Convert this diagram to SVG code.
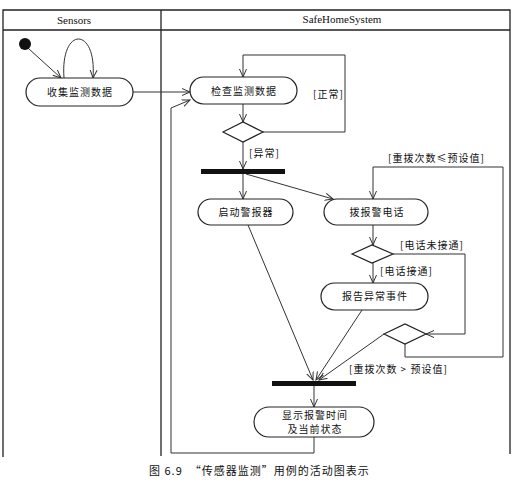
<svg xmlns="http://www.w3.org/2000/svg" width="512" height="491" viewBox="0 0 512 491">
<style>
.frame{fill:none;stroke:#222;stroke-width:1.3}
.act{fill:#fff;stroke:#222;stroke-width:1.2}
.dec{fill:#fff;stroke:#222;stroke-width:1.2}
.bar{fill:#111}
.conn{fill:none;stroke:#333;stroke-width:1}
.t{font-family:"Noto Sans CJK SC",sans-serif;font-size:10px;letter-spacing:1px;fill:#111}
.c{text-anchor:middle}
.hdr{font-family:"Liberation Serif",serif;font-size:11px;fill:#111;text-anchor:middle}
</style>
<defs>
<marker id="arr" markerUnits="userSpaceOnUse" markerWidth="10" markerHeight="10" refX="8" refY="4" orient="auto">
<path d="M0,0.5 L8,4 L0,7.5" fill="none" stroke="#333" stroke-width="1"/>
</marker>
</defs>
<rect width="512" height="491" fill="#fff"/>
<g id="frame">
<path class="frame" d="M3,457 V10 H510 V454 M3,30 H510 M161,10 V456"/>
<text class="hdr" x="74" y="24">Sensors</text>
<text class="hdr" x="342" y="23">SafeHomeSystem</text>
</g>
<g id="connectors">
<path class="conn" d="M29,49 L61,78" marker-end="url(#arr)"/>
<path class="conn" d="M64,78 C60,26 97,26 93,78" marker-end="url(#arr)"/>
<path class="conn" d="M133,92 H190" marker-end="url(#arr)"/>
<path class="conn" d="M243,104 V122" marker-end="url(#arr)"/>
<path class="conn" d="M263,132 H345 V55 H243 V77" marker-end="url(#arr)"/>
<path class="conn" d="M243,142 V169" marker-end="url(#arr)"/>
<path class="conn" d="M243,174 V199" marker-end="url(#arr)"/>
<path class="conn" d="M246,174 L333,199" marker-end="url(#arr)"/>
<path class="conn" d="M373,225 V245" marker-end="url(#arr)"/>
<path class="conn" d="M373,263 V283" marker-end="url(#arr)"/>
<path class="conn" d="M393,254 H465 V334 H426" marker-end="url(#arr)"/>
<path class="conn" d="M405,344 V357 H503 V167 H373 V199" marker-end="url(#arr)"/>
<path class="conn" d="M248,225 L313,380" marker-end="url(#arr)"/>
<path class="conn" d="M362,310 L316,380" marker-end="url(#arr)"/>
<path class="conn" d="M384,334 L319,380" marker-end="url(#arr)"/>
<path class="conn" d="M314,386 V407" marker-end="url(#arr)"/>
<path class="conn" d="M314,437 V453 H171 V108 L190,100" marker-end="url(#arr)"/>
<text class="t" x="313" y="98">[正常]</text>
<text class="t" x="249" y="157">[异常]</text>
<text class="t" x="388" y="162">[重拨次数≤预设值]</text>
<text class="t" x="400" y="249">[电话未接通]</text>
<text class="t" x="380" y="275">[电话接通]</text>
<text class="t" x="349" y="373">[重拨次数 &gt; 预设值]</text>
</g>
<g id="start"><circle cx="25" cy="44" r="6" fill="#111"/></g>
<g id="collect"><rect class="act" x="26" y="78" width="107" height="28" rx="14"/><text class="t c" x="80" y="96">收集监测数据</text></g>
<g id="check"><rect class="act" x="190" y="77" width="107" height="27" rx="13.5"/><text class="t c" x="244" y="95">检查监测数据</text></g>
<g id="decision1"><polygon class="dec" points="223,132 243,122 263,132 243,142"/></g>
<g id="fork"><rect class="bar" x="201" y="169" width="84" height="5"/></g>
<g id="alarm"><rect class="act" x="198" y="199" width="95" height="26" rx="13"/><text class="t c" x="246" y="216">启动警报器</text></g>
<g id="dial"><rect class="act" x="324" y="199" width="104" height="26" rx="13"/><text class="t c" x="377" y="216">拨报警电话</text></g>
<g id="decision2"><polygon class="dec" points="352,254 372,245 393,254 372,263"/></g>
<g id="report"><rect class="act" x="321" y="283" width="107" height="27" rx="13.5"/><text class="t c" x="375" y="300">报告异常事件</text></g>
<g id="decision3"><polygon class="dec" points="384,334 405,324 426,334 405,344"/></g>
<g id="join"><rect class="bar" x="272" y="381" width="84" height="5"/></g>
<g id="display"><rect class="act" x="254" y="407" width="120" height="30" rx="15"/><text class="t c" x="315" y="418.5">显示报警时间</text><text class="t c" x="315" y="433">及当前状态</text></g>
<g id="caption"><text class="t" style="font-size:11px" x="149" y="475" xml:space="preserve">图 6.9  “传感器监测”用例的活动图表示</text></g>
</svg>
